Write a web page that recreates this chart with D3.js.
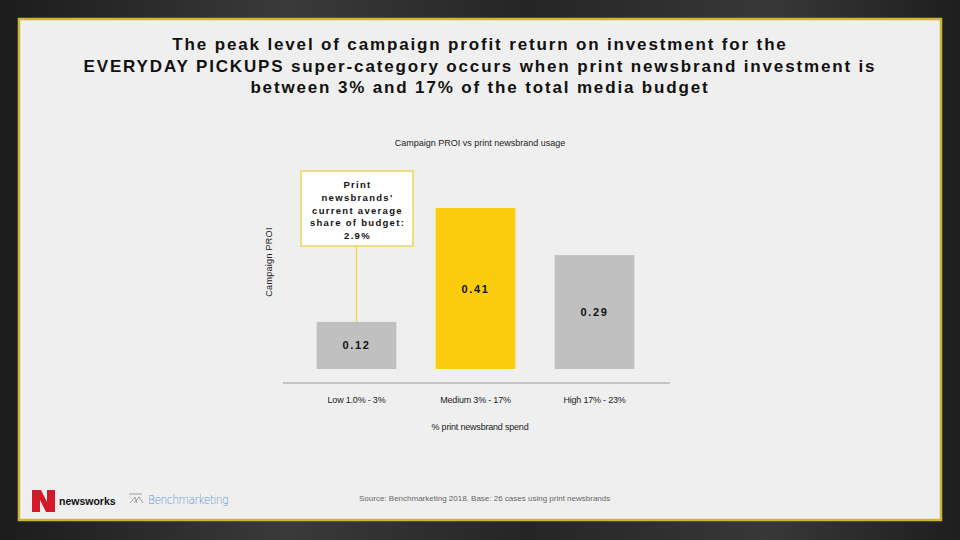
<!DOCTYPE html>
<html>
  <head>
    <meta charset="UTF-8" />
    <title>Campaign PROI vs print newsbrand usage</title>
    <script src="https://d3js.org/d3.v7.min.js"></script>
    <style>
      body { margin: 0; background: #222; }
      svg { display: block; font-family: "Liberation Sans", Arial, sans-serif; }
    </style>
  </head>
  <body>
    <div id="chart"></div>
    <script>
      // Données du graphique
      var categories = ["Low 1.0% - 3%", "Medium 3% - 17%", "High 17% - 23%"];
      var proiValues = [0.12, 0.41, 0.29];
      var barLabels = ["0.12", "0.41", "0.29"];
      var highlight = "Medium 3% - 17%";
      var calloutCategory = "Low 1.0% - 3%";
      var calloutLines = ["Print", "newsbrands'", "current average", "share of budget:", "2.9%"];
      var titleLines = [
        "The peak level of campaign profit return on investment for the",
        "EVERYDAY PICKUPS super-category occurs when print newsbrand investment is",
        "between 3% and 17% of the total media budget"
      ];

      var W = 960, H = 540;

      var svg = d3.select("#chart").append("svg")
        .attr("width", W).attr("height", H);

      // fond sombre (photo floue)
      var defs = svg.append("defs");
      var bg = defs.append("linearGradient").attr("id", "bg")
        .attr("x1", 0).attr("x2", 1).attr("y1", 0).attr("y2", 0);
      bg.append("stop").attr("offset", "0%").attr("stop-color", "#1c1c1c");
      bg.append("stop").attr("offset", "30%").attr("stop-color", "#3a3a3a");
      bg.append("stop").attr("offset", "55%").attr("stop-color", "#252525");
      bg.append("stop").attr("offset", "80%").attr("stop-color", "#383838");
      bg.append("stop").attr("offset", "100%").attr("stop-color", "#1e1e1e");
      svg.append("rect").attr("width", W).attr("height", H).attr("fill", "url(#bg)");

      // panneau clair avec bordure dorée
      svg.append("rect")
        .attr("x", 19).attr("y", 19).attr("width", 922).attr("height", 501)
        .attr("fill", "#efefef")
        .attr("stroke", "#cdb53c").attr("stroke-width", 2.5);

      // titre
      svg.append("g").selectAll("text")
        .data(titleLines).enter().append("text")
        .attr("x", 480).attr("y", (d, i) => 50 + i * 21.5)
        .attr("text-anchor", "middle")
        .attr("font-size", 17).attr("font-weight", "bold")
        .attr("letter-spacing", 1.85)
        .attr("fill", "#111")
        .text((d) => d);

      svg.append("text")
        .attr("x", 480).attr("y", 146)
        .attr("text-anchor", "middle")
        .attr("font-size", 9).attr("fill", "#222")
        .text("Campaign PROI vs print newsbrand usage");

      // échelles
      var x = d3.scaleBand().domain(categories).range([297, 654])
        .paddingInner(0.33).paddingOuter(0.165);
      var y = d3.scaleLinear().domain([0, 0.41]).range([369, 208]);

      var data = categories.map((c, i) => ({ cat: c, v: proiValues[i], label: barLabels[i] }));

      svg.append("g").selectAll("rect")
        .data(data).enter().append("rect")
        .attr("x", (d) => x(d.cat))
        .attr("y", (d) => y(d.v))
        .attr("width", x.bandwidth())
        .attr("height", (d) => y(0) - y(d.v))
        .attr("fill", (d) => d.cat === highlight ? "#fccd0e" : "#c0c0c0");

      svg.append("g").selectAll("text")
        .data(data).enter().append("text")
        .attr("x", (d) => x(d.cat) + x.bandwidth() / 2)
        .attr("y", (d) => (y(d.v) + y(0)) / 2 + 4)
        .attr("text-anchor", "middle")
        .attr("font-size", 11).attr("font-weight", "bold")
        .attr("letter-spacing", 1.6).attr("fill", "#111")
        .text((d) => d.label);

      // axe x
      var xAxis = svg.append("g")
        .attr("transform", "translate(0,383)")
        .call(d3.axisBottom(x).tickSize(0).tickPadding(14));
      xAxis.select(".domain").remove();
      xAxis.append("line")
        .attr("x1", 283).attr("x2", 670)
        .attr("stroke", "#c4c4c4").attr("stroke-width", 2);
      xAxis.selectAll(".tick text")
        .attr("font-family", "Liberation Sans, Arial, sans-serif")
        .attr("font-size", 9).attr("fill", "#222")
        .attr("letter-spacing", -0.2);

      svg.append("text")
        .attr("x", 480).attr("y", 430)
        .attr("text-anchor", "middle")
        .attr("font-size", 9).attr("fill", "#222")
        .attr("letter-spacing", -0.2)
        .text("% print newsbrand spend");

      svg.append("text")
        .attr("transform", "translate(272,262) rotate(-90)")
        .attr("text-anchor", "middle")
        .attr("font-size", 9).attr("fill", "#222")
        .attr("letter-spacing", 0.3)
        .text("Campaign PROI");

      // annotation
      var cx = x(calloutCategory) + x.bandwidth() / 2;
      var lowV = proiValues[categories.indexOf(calloutCategory)];
      svg.append("line")
        .attr("x1", cx).attr("x2", cx)
        .attr("y1", 246).attr("y2", y(lowV))
        .attr("stroke", "#f1d35a").attr("stroke-width", 1.5);
      svg.append("rect")
        .attr("x", 301).attr("y", 171).attr("width", 112).attr("height", 75)
        .attr("fill", "#ffffff")
        .attr("stroke", "#f1d35a").attr("stroke-width", 1.5);
      svg.append("g").selectAll("text")
        .data(calloutLines).enter().append("text")
        .attr("x", cx + 1).attr("y", (d, i) => 188 + i * 12.8)
        .attr("text-anchor", "middle")
        .attr("font-size", 9.5).attr("font-weight", "bold")
        .attr("letter-spacing", 1.3).attr("fill", "#111")
        .text((d) => d);

      // logos
      svg.append("path")
        .attr("d", "M32,490 L41,490 L47,502 L47,490 L55,490 L55,512 L46,512 L40,500 L40,512 L32,512 Z")
        .attr("fill", "#d41a2a");
      svg.append("text")
        .attr("x", 59).attr("y", 505)
        .attr("font-size", 10.5).attr("font-weight", "bold").attr("fill", "#111")
        .text("newsworks");
      var bm = svg.append("g").attr("stroke", "#888").attr("stroke-width", 0.8).attr("fill", "none");
      bm.append("line").attr("x1", 129).attr("x2", 142).attr("y1", 494).attr("y2", 494);
      bm.append("path").attr("d", "M130,503 L135,497 L137,503 M134,503 L139,497 L143,503");
      svg.append("text")
        .attr("x", 148).attr("y", 504)
        .attr("font-family", "DejaVu Sans, sans-serif")
        .attr("font-size", 11.5).attr("font-weight", 300)
        .attr("fill", "#5b96cf").attr("letter-spacing", -0.6)
        .attr("textLength", 80).attr("lengthAdjust", "spacingAndGlyphs")
        .text("Benchmarketing");

      svg.append("text")
        .attr("x", 359).attr("y", 501)
        .attr("font-size", 8).attr("fill", "#666")
        .text("Source: Benchmarketing 2018. Base: 26 cases using print newsbrands");
    </script>
  </body>
</html>
